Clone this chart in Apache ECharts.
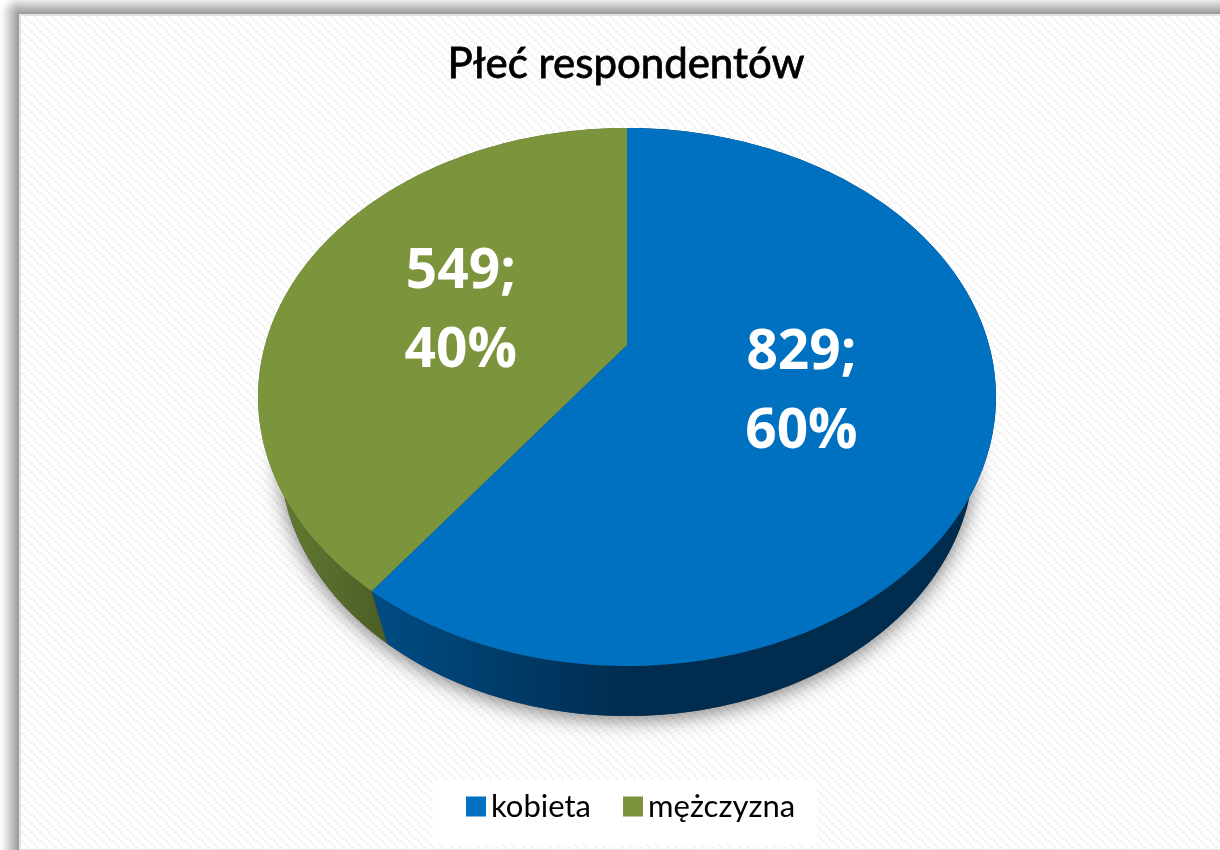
<!DOCTYPE html>
<html><head><meta charset="utf-8">
<style>html,body{margin:0;padding:0;background:#fff}#c{width:1220px;height:850px}</style>
<script src="https://cdn.jsdelivr.net/npm/echarts@6/dist/echarts.min.js"></script>
</head><body><div id="c"></div>
<script>
const categories = ['kobieta', 'mężczyzna'];
const counts = [829, 549];
const percents = [60, 40];
const chartTitle = 'Płeć respondentów';

const sliceColors = ['#0070c0', '#7c953d'];
const sideGradients = [
  [[386, '#004b82'], [630, '#002c4f']],
  [[272, '#647d33'], [386, '#4b5d25']]
];

// Perspective of the pie: the disc is a tilted circle, its centre seen above the ellipse centre.
const CX = 627, VY = 345, TILT_A = 258.95, TILT_C = 0.1933, TILT_D = 362;
const topE = {cx: 627, cy: 397, rx: 369, ry: 269};
const botE = {cx: 627, cy: 455, rx: 347, ry: 261};

function project(turn, r) {
  const a = turn * 2 * Math.PI, u = Math.sin(a) * r, v = Math.cos(a) * r, w = 1 + TILT_C * v;
  return [CX + TILT_D * u / w, VY - TILT_A * v / w];
}
function toBottom(p) {
  const c = (p[0] - topE.cx) / topE.rx, s = (p[1] - topE.cy) / topE.ry;
  return [botE.cx + botE.rx * c, botE.cy + botE.ry * s];
}
function rim(t0, t1) {
  const n = Math.max(2, Math.ceil((t1 - t0) * 360)), pts = [];
  for (let i = 0; i <= n; i++) pts.push(project(t0 + (t1 - t0) * i / n, 1));
  return pts;
}

const total = counts.reduce((a, b) => a + b, 0);

function renderSlice(idx) {
  return function (params, api) {
    let before = 0;
    for (let i = 0; i < idx; i++) before += counts[i];
    const t0 = before / total, t1 = t0 + api.value(0) / total;
    const edge = rim(t0, t1);
    const children = [];
    if (idx === 0) {
      children.push({
        type: 'polygon', z2: -1, silent: true,
        shape: {points: rim(0, 1).map(toBottom)},
        style: {fill: '#333', shadowBlur: 20, shadowOffsetY: 4, shadowColor: 'rgba(0,0,0,0.5)'}
      });
    }
    const g = sideGradients[idx];
    children.push({
      type: 'polygon', z2: 1, silent: true,
      shape: {points: edge.concat(edge.map(toBottom).reverse())},
      style: {fill: new echarts.graphic.LinearGradient(g[0][0], 0, g[1][0], 0,
        [{offset: 0, color: g[0][1]}, {offset: 1, color: g[1][1]}], true)}
    });
    children.push({
      type: 'polygon', z2: 2, silent: true,
      shape: {points: [project(0, 0)].concat(edge)},
      style: {fill: sliceColors[idx]}
    });
    const lp = project((t0 + t1) / 2, 0.495);
    children.push({
      type: 'text', z2: 3, silent: true,
      x: lp[0] - 1, y: lp[1] + 6,
      style: {
        text: api.value(0) + ';\n' + percents[idx] + '%',
        fill: '#fff', font: '700 55px "Open Sans", sans-serif',
        lineHeight: 79, align: 'center', verticalAlign: 'middle'
      }
    });
    return {type: 'group', children};
  };
}

// Faint diagonal weave of the plot background
function weave() {
  const P = 9, B = 3;
  const c = document.createElement('canvas');
  c.width = P; c.height = P;
  const x = c.getContext('2d');
  x.fillStyle = '#ffffff'; x.fillRect(0, 0, P, P);
  x.fillStyle = '#f4f4f4';
  for (let row = 0; row < P; row += B) x.fillRect(row, row, B, B);
  return c;
}

const LG = echarts.graphic.LinearGradient;
const RG = echarts.graphic.RadialGradient;
const chart = echarts.init(document.getElementById('c'), null, {renderer: 'canvas'});
chart.setOption({
  animation: false,
  backgroundColor: '#fff',
  graphic: [
    {type: 'rect', z: -10, silent: true, shape: {x: 21, y: 16, width: 1199, height: 833}, style: {fill: {image: weave(), repeat: 'repeat'}}},
    {type: 'rect', z: -9, silent: true, shape: {x: 19, y: 0, width: 1201, height: 14}, style: {fill: new LG(0, 0, 0, 1, [{offset: 0, color: '#ececec'}, {offset: 1, color: '#999999'}])}},
    {type: 'rect', z: -8, silent: true, shape: {x: 0, y: 14, width: 19, height: 836}, style: {fill: new LG(0, 0, 1, 0, [{offset: 0, color: '#ffffff'}, {offset: 0.2, color: '#f0f0f0'}, {offset: 1, color: '#999999'}])}},
    {type: 'rect', z: -8, silent: true, shape: {x: 0, y: 0, width: 19, height: 14}, style: {fill: new RG(19, 14, 19, [{offset: 0, color: '#999999'}, {offset: 0.8, color: '#f0f0f0'}, {offset: 1, color: '#ffffff'}], true)}},
    {type: 'rect', z: -7, silent: true, shape: {x: 19, y: 14, width: 1201, height: 2}, style: {fill: '#e4e4e4'}},
    {type: 'rect', z: -7, silent: true, shape: {x: 19, y: 14, width: 2, height: 836}, style: {fill: '#e4e4e4'}},
    {type: 'rect', z: -7, silent: true, shape: {x: 19, y: 849, width: 1201, height: 1}, style: {fill: '#e4e4e4'}}
  ],
  title: {
    text: chartTitle, left: 621, top: 38, textAlign: 'center',
    textStyle: {color: '#000', fontFamily: 'Lato', fontWeight: 'normal', fontSize: 42, textBorderColor: '#000', textBorderWidth: 0.8}
  },
  legend: {
    data: categories, left: 433, top: 780, orient: 'horizontal',
    backgroundColor: '#fff', padding: [11, 22, 23, 33],
    icon: 'rect', itemWidth: 20, itemHeight: 20, itemGap: 32, selectedMode: false,
    textStyle: {color: '#000', fontFamily: 'Lato', fontSize: 31}
  },
  series: categories.map((name, i) => ({
    type: 'custom', name, coordinateSystem: 'none', clip: false, silent: true,
    itemStyle: {color: sliceColors[i]},
    data: [[counts[i]]],
    renderItem: renderSlice(i)
  }))
});
</script></body></html>
